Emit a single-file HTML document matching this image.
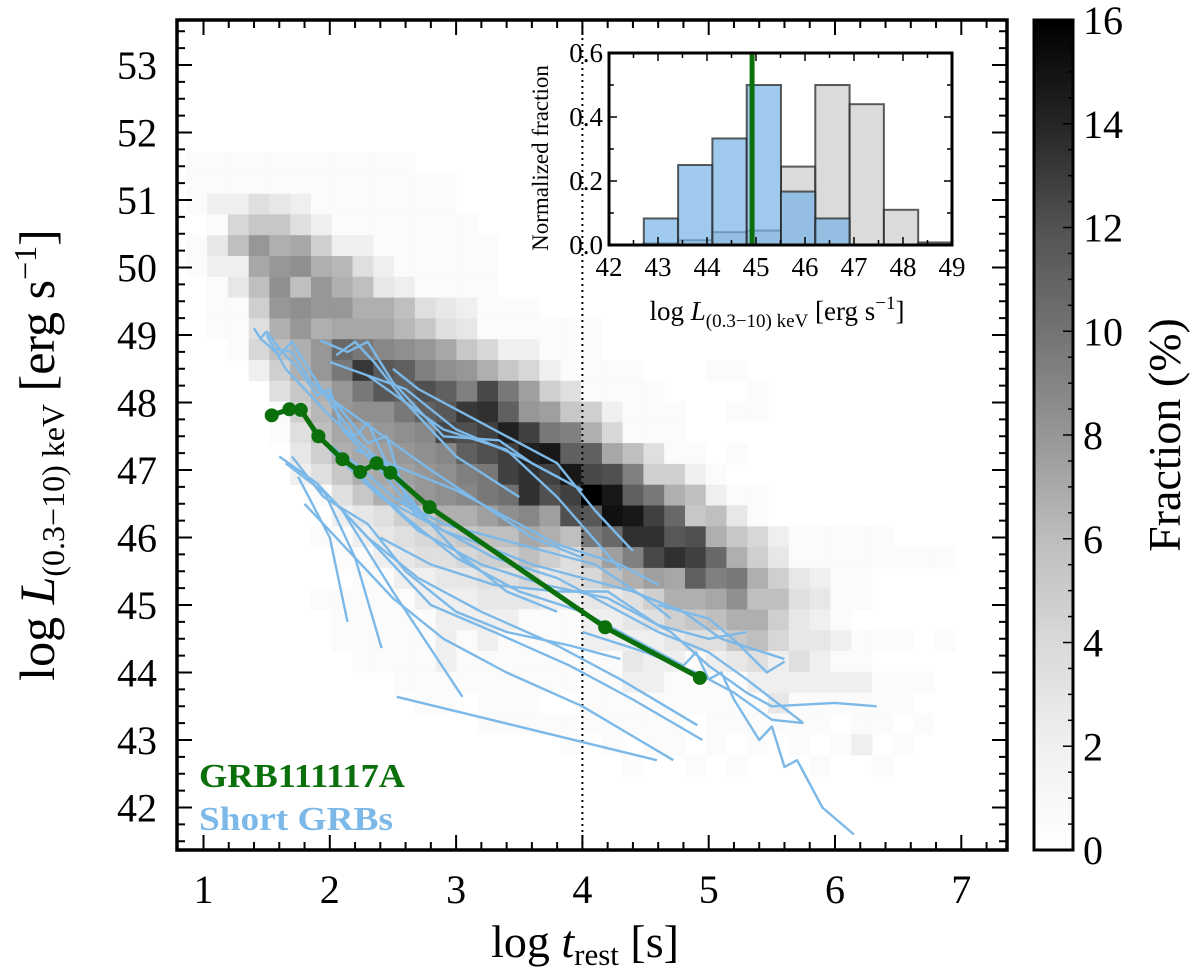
<!DOCTYPE html>
<html><head><meta charset="utf-8"><title>GRB luminosity chart</title>
<style>
html,body{margin:0;padding:0;background:#fff;}
svg{display:block;font-family:"Liberation Serif","DejaVu Serif",serif;}
</style></head>
<body>
<svg id="chart" xmlns="http://www.w3.org/2000/svg" width="1200" height="973" viewBox="0 0 1200 973">
<g id="heat"></g>
<line id="dotline" stroke="#000" stroke-width="2" stroke-dasharray="2,4"/>
<g id="sgrb"></g>
<g id="grb"></g>
<g id="axes"></g>
<text x="199" y="787" font-size="34" font-weight="bold" fill="#0b700b" textLength="206" lengthAdjust="spacingAndGlyphs">GRB111117A</text>
<text x="199" y="830" font-size="34" font-weight="bold" fill="#7cb9e8" textLength="194" lengthAdjust="spacingAndGlyphs">Short GRBs</text>
<text x="585" y="957" font-size="46" text-anchor="middle">log <tspan font-style="italic">t</tspan><tspan font-size="31" dy="8">rest</tspan><tspan dy="-8"> [s]</tspan></text>
<text transform="translate(54,455) rotate(-90)" font-size="50" text-anchor="middle">log <tspan font-style="italic">L</tspan><tspan font-size="32" dy="10">(0.3−10) keV</tspan><tspan dy="-10">  [erg s</tspan><tspan font-size="32" dy="-18">−1</tspan><tspan dy="18">]</tspan></text>
<g id="inset"></g>
<g id="cbar"></g>
<text transform="translate(1180,435) rotate(-90)" font-size="46" text-anchor="middle">Fraction (%)</text>
</svg>
<script>
// ---- data ----
const heatRows = [
"1111111111100000000000000000000000000",
"1111111111111000000000000000000000000",
"1224321111111000000000000000000000000",
"0157742111111100000000000000000000000",
"138dab6221111110000000000000000000000",
"122bdea942111110000000000000000000000",
"0138e8da83211110000000000000000000000",
"0116deddaa843211100000000000000000000",
"0114adabbb974311111100000000000000000",
"00158adjhfedb752211100000000000000000",
"000"+"26adhpl"+"kgeda75"+"21111"+"000"+"11"+"0000000000",
"0000"+"47adhlk"+"mkgnhc"+"64"+"1111"+"0000"+"1"+"000000000",
"0000"+"169deeh"+"klpqkd"+"c7"+"6211"+"1001"+"1"+"000000000",
"0000"+"148bcde"+"fnmoso"+"hg"+"a511"+"1000"+"0"+"000000000",
"00000"+"36abcd"+"efkmos"+"tk"+"kb84"+"1101"+"0"+"000000000",
"00000"+"247abc"+"deghoq"+"ot"+"nmg6"+"6210"+"0"+"000000000",
"000000"+"147abd"+"efhiq"+"mo"+"wtkh"+"a821"+"1"+"000000000",
"0000000"+"23467"+"aacef"+"cm"+"luto"+"j783"+"1"+"000000000",
"000000"+"112345"+"6788b"+"a8"+"hjqq"+"lma7"+"5"+"211111000",
"0000000"+"11234"+"45668"+"64"+"8cgn"+"qoja"+"6"+"311111111",
"0000000"+"01122"+"33445"+"34"+"58ac"+"bkgh"+"a"+"632110000",
"000000"+"111112"+"22333"+"22"+"3346"+"aabe"+"8"+"843110000",
"000000"+"011111"+"22221"+"11"+"2234"+"678a"+"a"+"632100000",
"000000"+"011111"+"21211"+"11"+"2222"+"3447"+"8"+"533211101",
"000000"+"001111"+"21111"+"11"+"1132"+"2123"+"4"+"242110000",
"000000"+"000011"+"11111"+"11"+"1122"+"1111"+"2"+"222221110",
"000000"+"000001"+"10111"+"00"+"1111"+"1111"+"1"+"311111100",
"000000"+"000000"+"00111"+"11"+"1111"+"1011"+"1"+"111011010",
"000000"+"000000"+"00000"+"01"+"0101"+"1010"+"1"+"010120100",
"000000"+"000000"+"00000"+"00"+"0010"+"0101"+"0"+"001001000"
];
const heatT0 = 0.864, heatDT = 0.1645, heatLTop = 51.71, heatDL = 0.308;

const grbT = [1.54,1.68,1.77,1.91,2.10,2.24,2.37,2.48,2.79,4.18,4.93];
const grbL = [47.81,47.90,47.89,47.50,47.16,46.97,47.10,46.96,46.45,44.67,43.92];

const shortGrbs = [
[1.40,49.10,1.45,48.95,1.5,49.05,1.6,48.8,1.75,48.5,1.9,48.1,2.0,48.2,2.1,47.6,2.4,47.0,2.7,46.3],
[1.45,48.95,1.6,48.7,1.7,48.9,1.8,48.6,2.0,48.0,2.2,47.5,2.3,47.7,2.5,46.9,2.8,46.2,3.1,45.6],
[1.55,48.8,1.7,48.75,1.85,48.3,2.0,48.1,2.3,47.4,2.45,47.5,2.6,46.6,3.0,45.8,3.4,45.2,3.8,44.9],
[2.0,48.6,2.3,48.4,2.6,48.2,3.0,47.6,3.5,47.2,4.0,46.7],
[1.92,48.92,2.14,48.75,2.3,48.9,2.5,48.3,2.7,47.9,2.9,47.5,3.34,47.44,3.6,47.1,4.0,46.7],
[2.3,48.4,2.6,48.0,2.9,47.6,3.4,47.3,3.8,46.6,4.31,45.51],
[1.9,47.5,2.2,47.1,2.5,46.6,2.9,46.1,3.2,45.9,3.6,45.6,4.0,45.4,4.4,45.2,4.8,44.9,5.1,44.5,5.6,44.2],
[2.0,47.3,2.4,46.6,2.8,46.2,3.3,45.7,3.8,45.4,4.2,45.0,4.6,44.6,5.0,44.3,5.3,43.9,5.75,43.25],
[2.2,47.0,2.6,46.3,3.0,45.7,3.5,45.2,4.0,44.9,4.4,44.5,4.8,44.1,4.9,44.3,5.0,43.9,5.1,44.0,5.2,43.6,5.4,43.0,5.5,43.2,5.6,42.6,5.7,42.7,5.9,42.0,6.15,41.6],
[2.3,46.8,2.7,46.1,3.2,45.6,3.7,45.3,4.2,45.1,4.7,44.6,5.0,44.1,5.3,43.7,5.5,43.5,6.0,43.55,6.33,43.5],
[1.6,47.2,1.9,46.8,2.3,46.0,2.7,45.4,3.2,44.9,3.8,44.4,4.3,43.9,4.91,43.22],
[1.65,47.1,2.0,46.6,2.4,45.8,2.8,45.0,3.3,44.6,3.9,44.1,4.4,43.6,4.95,43.0],
[1.8,46.5,2.1,45.9,2.5,45.1,2.9,44.5,3.4,44.0,4.0,43.5,4.72,42.7],
[2.53,43.64,4.59,42.70],
[1.75,46.9,2.0,46.0,2.14,44.75],
[1.95,46.7,2.2,45.7,2.41,44.36],
[2.1,46.4,2.5,45.2,3.05,43.64],
[2.5,46.6,2.9,46.2,3.3,46.0,3.7,45.8,4.1,45.6,4.5,45.1,4.7,44.8],
[2.2,47.3,2.6,47.0,3.0,46.7,3.4,46.3,3.8,45.9,4.3,45.6,4.6,45.3],
[1.9,48.2,2.2,47.8,2.5,47.4,2.8,47.0,3.2,46.5,3.6,46.0,4.0,45.7],
[1.5,49.0,1.65,48.5,1.8,48.2,2.0,47.8,2.3,47.3,2.6,46.8],
[2.05,48.7,2.2,48.9,2.35,48.6,2.6,48.0,3.0,47.2,3.5,46.6],
[2.5,48.5,2.7,48.2,3.0,47.9,3.4,47.5,3.8,47.1,4.1,46.4,4.4,45.8],
[4.6,45.0,5.0,44.8,5.22,44.45,5.3,44.3,5.46,44.0,5.6,44.16],
[4.0,44.6,4.5,44.3,4.9,44.0,5.2,43.7,5.5,43.3,5.75,43.25],
[1.7,47.2,1.95,46.6,2.3,46.2,2.6,45.5,3.0,44.9,3.4,44.6,3.9,44.4,4.3,44.2],
[2.4,46.0,2.8,45.6,3.3,45.3,3.8,45.2,4.2,45.2,4.6,44.7,5.0,44.5,5.3,44.6]
];

const xTicks = [1,2,3,4,5,6,7];
const yTicks = [42,43,44,45,46,47,48,49,50,51,52,53];
const cbTicks = [0,2,4,6,8,10,12,14,16];

const binEdges = [42.71,43.41,44.11,44.81,45.51,46.21,46.91,47.61,48.31,49.01];
const grayFrac = [0.005,0.015,0.04,0.045,0.245,0.50,0.44,0.11,0.008];
const blueFrac = [0.083,0.25,0.333,0.50,0.167,0.083,0,0,0];
const grbInsetL = 44.92;
const insetXTicks = [42,43,44,45,46,47,48,49];
const insetYTicks = [0.0,0.2,0.4,0.6];

// ---- scales ----
const X0=177, X1=1007, Y0=20, Y1=850;
const xS = t => 203.5 + (t-1)*126.3;
const yS = L => 65 + (53-L)*67.5;
const ix = v => 609 + (v-42)*49;
const iy = f => 245 - f*320;
const cbY = v => 850 - v/16*830;
const NS = "http://www.w3.org/2000/svg";
function mk(tag, attrs, parent){const e=document.createElementNS(NS,tag);for(const k in attrs)e.setAttribute(k,attrs[k]);parent.appendChild(e);return e;}

// heatmap
const heat = document.getElementById('heat');
heatRows.forEach((row,r)=>{
  for(let c=0;c<row.length;c++){
    const v = parseInt(row[c],36)/2;
    if(!v) continue;
    const t0 = heatT0 + c*heatDT, Lt = heatLTop - r*heatDL;
    const g = v<=0.5 ? 251 : Math.round(255*(1-Math.min(v,16)/16));
    const x0 = xS(t0), x1 = xS(t0+heatDT), y0 = yS(Lt), y1 = yS(Lt-heatDL);
    const el = mk('rect',{x:x0.toFixed(1),y:y0.toFixed(1),width:(x1-x0+0.4).toFixed(1),height:(y1-y0+0.4).toFixed(1),fill:`rgb(${g},${g},${g})`},heat);
    
    
  }
});

// dotted line
const dl = document.getElementById('dotline');
dl.setAttribute('x1',xS(4)); dl.setAttribute('x2',xS(4)); dl.setAttribute('y1',Y0); dl.setAttribute('y2',Y1);

// short grbs
const sg = document.getElementById('sgrb');
shortGrbs.forEach(arr=>{
  const pts=[]; for(let i=0;i<arr.length;i+=2) pts.push(xS(arr[i]).toFixed(1)+','+yS(arr[i+1]).toFixed(1));
  const el = mk('polyline',{points:pts.join(' '),fill:'none',stroke:'#7cb9e8','stroke-width':2.4,'stroke-linejoin':'round'},sg);
  
  
});

// GRB111117A
const gg = document.getElementById('grb');
const gp = grbT.map((t,i)=>xS(t).toFixed(1)+','+yS(grbL[i]).toFixed(1)).join(' ');
const gl = mk('polyline',{points:gp,fill:'none',stroke:'#0b700b','stroke-width':5,'stroke-linejoin':'round'},gg);


grbT.forEach((t,i)=>{
  const m = mk('circle',{cx:xS(t),cy:yS(grbL[i]),r:7,fill:'#0b700b'},gg);
  
  
});

// main axes
const ax = document.getElementById('axes');
const fr = mk('rect',{x:X0,y:Y0,width:X1-X0,height:Y1-Y0,fill:'none',stroke:'#000','stroke-width':3.5},ax);


for(let t=0.8;t<=7.4;t+=0.2){
  const tt=Math.round(t*10)/10, x=xS(tt); if(x<X0+2||x>X1-2) continue;
  const maj = Math.abs(tt-Math.round(tt))<1e-6, len = maj?15:8;
  mk('line',{x1:x,x2:x,y1:Y1,y2:Y1-len,stroke:'#000','stroke-width':2},ax);
  mk('line',{x1:x,x2:x,y1:Y0,y2:Y0+len,stroke:'#000','stroke-width':2},ax);
}
for(let L=41.25;L<=53.75;L+=0.25){
  const y=yS(L); if(y<Y0+2||y>Y1-2) continue;
  const maj = Math.abs(L-Math.round(L))<1e-6, len = maj?15:8;
  mk('line',{x1:X0,x2:X0+len,y1:y,y2:y,stroke:'#000','stroke-width':2},ax);
  mk('line',{x1:X1,x2:X1-len,y1:y,y2:y,stroke:'#000','stroke-width':2},ax);
}
xTicks.forEach(t=>{
  const e=mk('text',{x:xS(t),y:903,'font-size':40,'text-anchor':'middle'},ax); e.textContent=t;
  
  
});
yTicks.forEach(L=>{
  const e=mk('text',{x:157,y:yS(L)+14,'font-size':40,'text-anchor':'end'},ax); e.textContent=L;
  
  
});

// inset
const ins = document.getElementById('inset');
mk('rect',{x:609,y:53,width:343,height:192,fill:'#fff'},ins);
binEdges.slice(0,-1).forEach((e0,i)=>{
  const e1=binEdges[i+1];
  if(grayFrac[i]>0){
    const r=mk('rect',{x:ix(e0),y:iy(grayFrac[i]),width:ix(e1)-ix(e0),height:iy(0)-iy(grayFrac[i]),fill:'rgba(195,195,195,0.6)',stroke:'rgba(40,40,40,0.75)','stroke-width':2},ins);
    
    
  }
});
binEdges.slice(0,-1).forEach((e0,i)=>{
  const e1=binEdges[i+1];
  if(blueFrac[i]>0){
    const r=mk('rect',{x:ix(e0),y:iy(blueFrac[i]),width:ix(e1)-ix(e0),height:iy(0)-iy(blueFrac[i]),fill:'rgba(118,180,230,0.7)',stroke:'rgba(40,40,40,0.75)','stroke-width':2},ins);
    
    
  }
});
const gv = mk('line',{x1:ix(grbInsetL),x2:ix(grbInsetL),y1:53,y2:245,stroke:'#0b700b','stroke-width':5},ins);


for(let v=42;v<=49.01;v+=0.5){
  const x=ix(v), maj=Math.abs(v-Math.round(v))<1e-6, len=maj?8:5;
  mk('line',{x1:x,x2:x,y1:245,y2:245-len,stroke:'#000','stroke-width':1.5},ins);
  mk('line',{x1:x,x2:x,y1:53,y2:53+len,stroke:'#000','stroke-width':1.5},ins);
}
for(let f=0;f<=0.601;f+=0.1){
  const y=iy(f), maj=Math.round(f*10)%2===0, len=maj?8:5;
  mk('line',{x1:609,x2:609+len,y1:y,y2:y,stroke:'#000','stroke-width':1.5},ins);
  mk('line',{x1:952,x2:952-len,y1:y,y2:y,stroke:'#000','stroke-width':1.5},ins);
}
const ifr=mk('rect',{x:609,y:53,width:343,height:192,fill:'none',stroke:'#000','stroke-width':3},ins);


insetXTicks.forEach(v=>{
  const e=mk('text',{x:ix(v),y:276,'font-size':27,'text-anchor':'middle'},ins); e.textContent=v;
  
  
});
insetYTicks.forEach(f=>{
  const e=mk('text',{x:603,y:iy(f)+9,'font-size':27,'text-anchor':'end'},ins); e.textContent=f.toFixed(1);
  
  
});
const ixl=mk('text',{x:777,y:320,'font-size':27,'text-anchor':'middle'},ins);
ixl.innerHTML='log  <tspan font-style="italic">L</tspan><tspan font-size="19" dy="7">(0.3−10) keV</tspan><tspan dy="-7">  [erg s</tspan><tspan font-size="19" dy="-11">−1</tspan><tspan dy="11">]</tspan>';


const iyl=mk('text',{transform:'translate(548,158) rotate(-90)','font-size':23,'text-anchor':'middle'},ins);
iyl.textContent='Normalized fraction';



// colorbar
const cb = document.getElementById('cbar');
const defs = mk('defs',{},cb);
const lg = mk('linearGradient',{id:'greys',x1:0,y1:1,x2:0,y2:0},defs);
[[0,'#ffffff'],[0.125,'#f0f0f0'],[0.25,'#d9d9d9'],[0.375,'#bdbdbd'],[0.5,'#969696'],[0.625,'#737373'],[0.75,'#525252'],[0.875,'#252525'],[1,'#000000']].forEach(s=>mk('stop',{offset:s[0],'stop-color':s[1]},lg));
const cbr=mk('rect',{x:1034,y:Y0,width:39,height:Y1-Y0,fill:'url(#greys)',stroke:'#000','stroke-width':3},cb);


for(let v=0;v<=16;v+=0.5){
  const y=cbY(v), maj=Math.abs(v/2-Math.round(v/2))<1e-6, len=maj?10:5;
  mk('line',{x1:1073,x2:1073-len,y1:y,y2:y,stroke:'#000','stroke-width':1.5},cb);
}
cbTicks.forEach(v=>{
  const e=mk('text',{x:1083,y:cbY(v)+14,'font-size':40},cb); e.textContent=v;
  
  
});
</script>
</body></html>
